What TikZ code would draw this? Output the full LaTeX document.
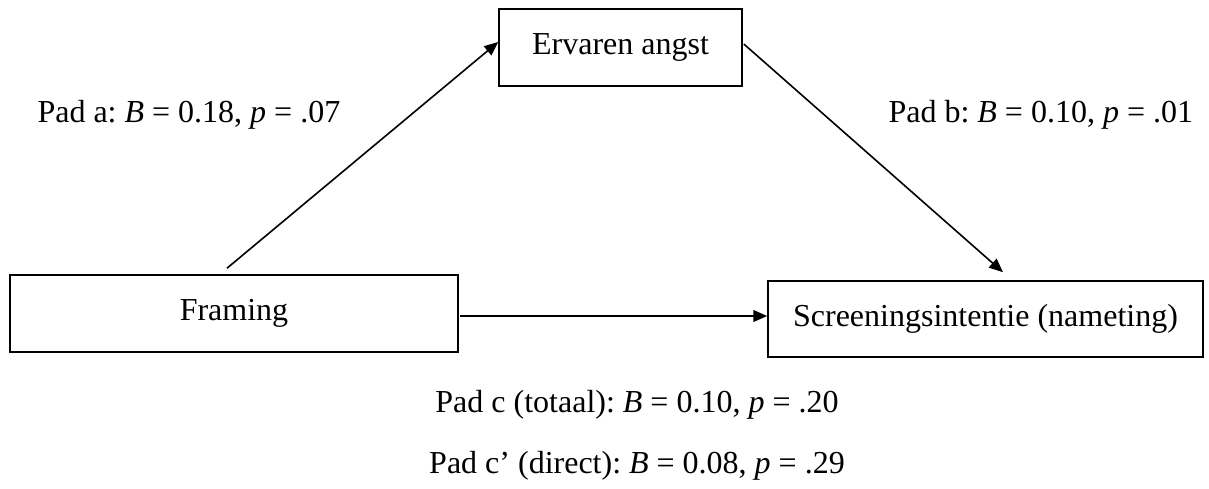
\documentclass[tikz,border=0pt]{standalone}
\usepackage{fontspec}
\setmainfont{Liberation Serif}
\usetikzlibrary{arrows.meta,calc}
\frenchspacing
\begin{document}
\begin{tikzpicture}[x=0.375pt,y=-0.375pt,
  box/.style={draw=black,line width=0.6pt,rectangle,inner sep=0pt,font=\fontsize{12}{14}\selectfont},
  arr/.style={line width=0.6pt,-{Triangle[length=5.2pt,width=4.4pt]}},
  lbl/.style={inner sep=0pt,font=\fontsize{12}{14}\selectfont}]
\useasboundingbox[fill=white] (0,0) rectangle (1209,488);
\node[box,minimum width=91.125pt,minimum height=28.875pt] (erv) at (620.5,47.5) {Ervaren angst};
\node[box,minimum width=168pt,minimum height=28.875pt] (fram) at (234,313.5) {Framing};
\node[box,minimum width=163.125pt,minimum height=28.5pt] (scr) at (985.5,319) {Screeningsintentie (nameting)};
\coordinate (a0) at ($(fram.north)+(-7,-6)$);
\coordinate (a1) at ($(erv.west)+(0,-5.5)$);
\coordinate (b0) at ($(erv.east)+(1,-3.5)$);
\coordinate (b1) at ($(scr.north)+(17.5,-8)$);
\coordinate (c0) at ($(fram.east)+(1,2.5)$);
\coordinate (c1) at ($(scr.west)+(0,-3)$);
\draw[arr] (a0) -- (a1);
\draw[arr] (b0) -- (b1);
\draw[arr] (c0) -- (c1);
\node[lbl,anchor=base west] (la) at (37,122) {Pad a: \textit{B} = 0.18, \textit{p} = .07};
\node[lbl,anchor=base west] (lb) at (888,122) {Pad b: \textit{B} = 0.10, \textit{p} = .01};
\node[lbl,anchor=base] (lc) at (637,412) {Pad c (totaal): \textit{B} = 0.10, \textit{p} = .20};
\node[lbl,anchor=base] (lcp) at (637,473) {Pad c’ (direct): \textit{B} = 0.08, \textit{p} = .29};
\end{tikzpicture}
\end{document}
